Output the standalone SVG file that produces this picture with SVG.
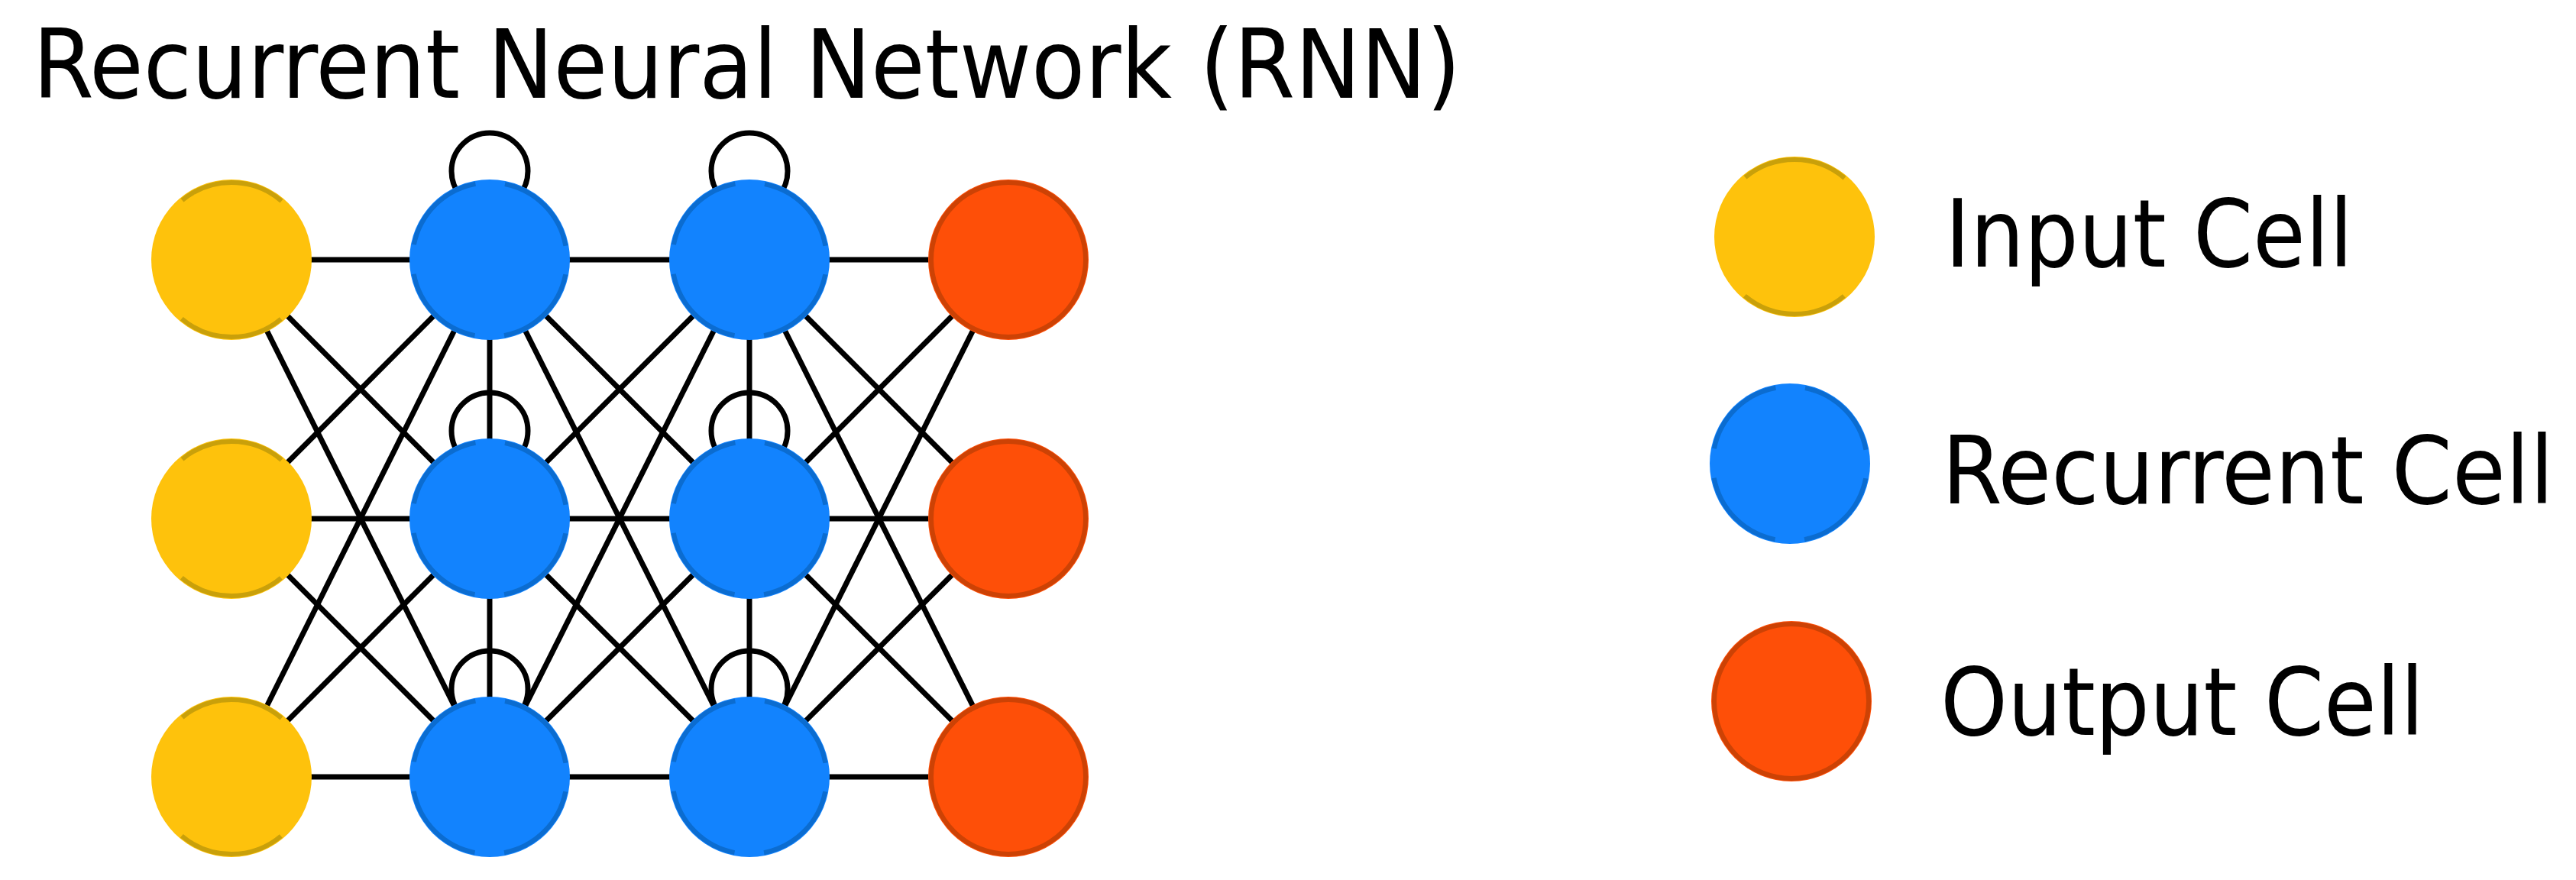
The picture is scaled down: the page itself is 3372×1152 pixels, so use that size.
<svg xmlns="http://www.w3.org/2000/svg" width="3372" height="1152" viewBox="0 0 3372 1152">
<style>
.bg{fill:#ffffff}
.edge{stroke:#000000;stroke-width:7;fill:none}
.loop{stroke:#000000;stroke-width:7;fill:none}
.in-fill{fill:#FEC20C}
.in-ring{fill:none;stroke:#C9A00A;stroke-width:6;stroke-dasharray:141 176.3;stroke-dashoffset:229.2}
.rc-fill{fill:#1283FE}
.rc-ring{fill:none;stroke:#0B6CD0;stroke-width:6;stroke-dasharray:119.9 38.75;stroke-dashoffset:139.3}
.out-fill{fill:#FE4F08}
.out-ring{fill:none;stroke:#CC4205;stroke-width:6}
.t{font-family:"Liberation Sans Narrow","DejaVu Sans Condensed","Noto Sans","Liberation Sans",sans-serif;fill:#000000}
</style>
<rect class="bg" x="0" y="0" width="3372" height="1152"/>
<text id="title" class="t" x="43" y="128" font-size="124" textLength="1869" lengthAdjust="spacingAndGlyphs">Recurrent Neural Network (RNN)</text>
<g id="connectors">
  <line class="edge" x1="303" y1="340" x2="641" y2="340"/>
  <line class="edge" x1="303" y1="340" x2="641" y2="679"/>
  <line class="edge" x1="303" y1="340" x2="641" y2="1017"/>
  <line class="edge" x1="303" y1="679" x2="641" y2="340"/>
  <line class="edge" x1="303" y1="679" x2="641" y2="679"/>
  <line class="edge" x1="303" y1="679" x2="641" y2="1017"/>
  <line class="edge" x1="303" y1="1017" x2="641" y2="340"/>
  <line class="edge" x1="303" y1="1017" x2="641" y2="679"/>
  <line class="edge" x1="303" y1="1017" x2="641" y2="1017"/>
  <line class="edge" x1="641" y1="340" x2="981" y2="340"/>
  <line class="edge" x1="641" y1="340" x2="981" y2="679"/>
  <line class="edge" x1="641" y1="340" x2="981" y2="1017"/>
  <line class="edge" x1="641" y1="679" x2="981" y2="340"/>
  <line class="edge" x1="641" y1="679" x2="981" y2="679"/>
  <line class="edge" x1="641" y1="679" x2="981" y2="1017"/>
  <line class="edge" x1="641" y1="1017" x2="981" y2="340"/>
  <line class="edge" x1="641" y1="1017" x2="981" y2="679"/>
  <line class="edge" x1="641" y1="1017" x2="981" y2="1017"/>
  <line class="edge" x1="981" y1="340" x2="1320" y2="340"/>
  <line class="edge" x1="981" y1="340" x2="1320" y2="679"/>
  <line class="edge" x1="981" y1="340" x2="1320" y2="1017"/>
  <line class="edge" x1="981" y1="679" x2="1320" y2="340"/>
  <line class="edge" x1="981" y1="679" x2="1320" y2="679"/>
  <line class="edge" x1="981" y1="679" x2="1320" y2="1017"/>
  <line class="edge" x1="981" y1="1017" x2="1320" y2="340"/>
  <line class="edge" x1="981" y1="1017" x2="1320" y2="679"/>
  <line class="edge" x1="981" y1="1017" x2="1320" y2="1017"/>
  <line class="edge" x1="641" y1="340" x2="641" y2="679"/>
  <line class="edge" x1="641" y1="679" x2="641" y2="1017"/>
  <line class="edge" x1="981" y1="340" x2="981" y2="679"/>
  <line class="edge" x1="981" y1="679" x2="981" y2="1017"/>
  <circle class="loop" cx="641" cy="224" r="50"/>
  <circle class="loop" cx="641" cy="564" r="50"/>
  <circle class="loop" cx="641" cy="902" r="50"/>
  <circle class="loop" cx="981" cy="224" r="50"/>
  <circle class="loop" cx="981" cy="564" r="50"/>
  <circle class="loop" cx="981" cy="902" r="50"/>
</g>
<g id="input1"><circle class="in-fill" cx="303" cy="340" r="105"/><circle class="in-ring" cx="303" cy="340" r="101"/></g>
<g id="input2"><circle class="in-fill" cx="303" cy="679" r="105"/><circle class="in-ring" cx="303" cy="679" r="101"/></g>
<g id="input3"><circle class="in-fill" cx="303" cy="1017" r="105"/><circle class="in-ring" cx="303" cy="1017" r="101"/></g>
<g id="rec1a"><circle class="rc-fill" cx="641" cy="340" r="105"/><circle class="rc-ring" cx="641" cy="340" r="101"/></g>
<g id="rec1b"><circle class="rc-fill" cx="641" cy="679" r="105"/><circle class="rc-ring" cx="641" cy="679" r="101"/></g>
<g id="rec1c"><circle class="rc-fill" cx="641" cy="1017" r="105"/><circle class="rc-ring" cx="641" cy="1017" r="101"/></g>
<g id="rec2a"><circle class="rc-fill" cx="981" cy="340" r="105"/><circle class="rc-ring" cx="981" cy="340" r="101"/></g>
<g id="rec2b"><circle class="rc-fill" cx="981" cy="679" r="105"/><circle class="rc-ring" cx="981" cy="679" r="101"/></g>
<g id="rec2c"><circle class="rc-fill" cx="981" cy="1017" r="105"/><circle class="rc-ring" cx="981" cy="1017" r="101"/></g>
<g id="out1"><circle class="out-fill" cx="1320" cy="340" r="105"/><circle class="out-ring" cx="1320" cy="340" r="101"/></g>
<g id="out2"><circle class="out-fill" cx="1320" cy="679" r="105"/><circle class="out-ring" cx="1320" cy="679" r="101"/></g>
<g id="out3"><circle class="out-fill" cx="1320" cy="1017" r="105"/><circle class="out-ring" cx="1320" cy="1017" r="101"/></g>
<g id="legend-input">
  <circle class="in-fill" cx="2349" cy="310" r="105"/><circle class="in-ring" cx="2349" cy="310" r="101"/>
  <text class="t" x="2546" y="349" font-size="123" textLength="534" lengthAdjust="spacingAndGlyphs">Input Cell</text>
</g>
<g id="legend-recurrent">
  <circle class="rc-fill" cx="2343" cy="607" r="105"/><circle class="rc-ring" cx="2343" cy="607" r="101"/>
  <text class="t" x="2542" y="659" font-size="123" textLength="801" lengthAdjust="spacingAndGlyphs">Recurrent Cell</text>
</g>
<g id="legend-output">
  <circle class="out-fill" cx="2345" cy="918" r="105"/><circle class="out-ring" cx="2345" cy="918" r="101"/>
  <text class="t" x="2540" y="962" font-size="123" textLength="633" lengthAdjust="spacingAndGlyphs">Output Cell</text>
</g>
</svg>
